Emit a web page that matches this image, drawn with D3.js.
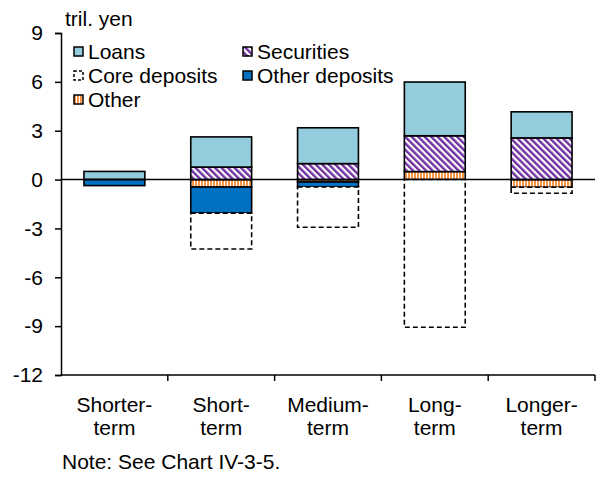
<!DOCTYPE html>
<html>
<head>
<meta charset="utf-8">
<script src="https://cdn.jsdelivr.net/npm/d3@7"></script>
<style>
  body { margin: 0; background: #fff; }
  svg { font-family: "Liberation Sans", Arial, sans-serif; }
</style>
</head>
<body>
<svg id="chart"></svg>
<script>
const categories = ["Shorter-term", "Short-term", "Medium-term", "Long-term", "Longer-term"];
const categoryLines = [["Shorter-", "term"], ["Short-", "term"], ["Medium-", "term"], ["Long-", "term"], ["Longer-", "term"]];
const loans = [0.5, 1.85, 2.2, 3.3, 1.6];
const securities = [0, 0.77, 0.98, 2.2, 2.56];
const other = [0, -0.46, -0.15, 0.49, -0.47];
const otherDeposits = [-0.37, -1.6, -0.3, 0, 0];
const coreDeposits = [0, -2.2, -2.48, -9.07, -0.37];
const yTicks = [9, 6, 3, 0, -3, -6, -9, -12];

const width = 596, height = 480;
const margin = { top: 33, right: 1, bottom: 105, left: 61 };
const fontSize = 21;

const svg = d3.select("#chart").attr("width", width).attr("height", height);

const rows = categories.map((c, i) => ({
  category: c,
  other: other[i],
  securities: securities[i],
  loans: loans[i],
  otherDeposits: otherDeposits[i],
  coreDeposits: coreDeposits[i]
}));

// positives stack other -> securities -> loans, negatives other -> other deposits -> core
const keys = ["other", "securities", "loans", "otherDeposits", "coreDeposits"];
const series = d3.stack().keys(keys).offset(d3.stackOffsetDiverging)(rows);

const x = d3.scaleBand()
  .domain(categories)
  .range([margin.left, width - margin.right])
  .paddingInner(0.43)
  .paddingOuter(0.215);

const y = d3.scaleLinear()
  .domain([-12, 9])
  .range([height - margin.bottom, margin.top]);

// patterns
const defs = svg.append("defs");
const secPat = defs.append("pattern")
  .attr("id", "pat-sec")
  .attr("patternUnits", "userSpaceOnUse")
  .attr("width", 4.6).attr("height", 4.6)
  .attr("patternTransform", "rotate(-45)");
secPat.append("rect").attr("width", 4.6).attr("height", 4.6).attr("fill", "#fff");
secPat.append("rect").attr("width", 2.4).attr("height", 4.6).attr("fill", "#7030a0");

const othPat = defs.append("pattern")
  .attr("id", "pat-oth")
  .attr("patternUnits", "userSpaceOnUse")
  .attr("width", 3).attr("height", 3);
othPat.append("rect").attr("width", 3).attr("height", 3).attr("fill", "#fff");
othPat.append("rect").attr("width", 2).attr("height", 3).attr("fill", "#f79646");

const styles = {
  loans: { fill: "#93cddd", dash: null, label: "Loans" },
  securities: { fill: "url(#pat-sec)", dash: null, label: "Securities" },
  coreDeposits: { fill: "#fff", dash: "5,3", label: "Core deposits" },
  otherDeposits: { fill: "#0070c0", dash: null, label: "Other deposits" },
  other: { fill: "url(#pat-oth)", dash: null, label: "Other" }
};

// bars
series.forEach((s) => {
  const st = styles[s.key];
  svg.append("g")
    .selectAll("rect")
    .data(s.filter((d) => d[1] - d[0] !== 0))
    .join("rect")
    .attr("x", (d) => x(d.data.category))
    .attr("width", x.bandwidth())
    .attr("y", (d) => y(Math.max(d[0], d[1])))
    .attr("height", (d) => Math.abs(y(d[0]) - y(d[1])))
    .attr("fill", st.fill)
    .attr("stroke", "#000")
    .attr("stroke-width", 1.6)
    .attr("stroke-dasharray", st.dash);
});

// zero line
svg.append("line")
  .attr("x1", margin.left).attr("x2", width - margin.right)
  .attr("y1", y(0)).attr("y2", y(0))
  .attr("stroke", "#000").attr("stroke-width", 1.5);

// y axis
const yAxis = svg.append("g")
  .attr("transform", `translate(${margin.left},0)`)
  .call(d3.axisLeft(y).tickValues(yTicks).tickSize(6).tickPadding(12).tickFormat((d) => d < 0 ? "-" + Math.abs(d) : d));
yAxis.select(".domain").attr("stroke-width", 1.5);
yAxis.selectAll(".tick line").attr("stroke-width", 1.5);
yAxis.selectAll("text").attr("font-size", fontSize).attr("font-family", "Liberation Sans, Arial, sans-serif").attr("fill", "#000");

// x axis at bottom with boundary ticks
const xAxis = svg.append("g")
  .attr("transform", `translate(0,${height - margin.bottom})`);
xAxis.append("line")
  .attr("x1", margin.left).attr("x2", width - margin.right)
  .attr("stroke", "#000").attr("stroke-width", 1.5);
xAxis.selectAll(".btick")
  .data(categories)
  .join("line")
  .attr("class", "btick")
  .attr("x1", (d) => x(d) + x.bandwidth() / 2 + x.step() / 2)
  .attr("x2", (d) => x(d) + x.bandwidth() / 2 + x.step() / 2)
  .attr("y1", 0).attr("y2", 6)
  .attr("stroke", "#000").attr("stroke-width", 1.5);

const labels = xAxis.selectAll(".clabel")
  .data(categories)
  .join("text")
  .attr("class", "clabel")
  .attr("text-anchor", "middle")
  .attr("font-size", fontSize)
  .attr("x", (d) => x(d) + x.bandwidth() / 2);
labels.selectAll("tspan")
  .data((d, i) => categoryLines[i])
  .join("tspan")
  .attr("x", function () { return d3.select(this.parentNode).attr("x"); })
  .attr("y", (d, i) => 37 + i * 23)
  .text((d) => d);

// unit
svg.append("text")
  .attr("x", 65).attr("y", 26)
  .attr("font-size", fontSize)
  .text("tril. yen");

// legend
const legendItems = [
  { key: "loans", col: 0, row: 0 },
  { key: "securities", col: 1, row: 0 },
  { key: "coreDeposits", col: 0, row: 1 },
  { key: "otherDeposits", col: 1, row: 1 },
  { key: "other", col: 0, row: 2 }
];
const legend = svg.append("g").attr("transform", "translate(74,47)");
const li = legend.selectAll("g")
  .data(legendItems)
  .join("g")
  .attr("transform", (d) => `translate(${d.col * 169},${d.row * 24})`);
li.append("rect")
  .attr("width", 9).attr("height", 9)
  .attr("fill", (d) => styles[d.key].fill)
  .attr("stroke", "#000")
  .attr("stroke-width", 1.5)
  .attr("stroke-dasharray", (d) => d.key === "coreDeposits" ? "3,2" : null);
li.append("text")
  .attr("x", 14).attr("y", 11.5)
  .attr("font-size", fontSize)
  .text((d) => styles[d.key].label);

// note
svg.append("text")
  .attr("x", 62).attr("y", 469)
  .attr("font-size", fontSize)
  .text("Note: See Chart IV-3-5.");
</script>
</body>
</html>
